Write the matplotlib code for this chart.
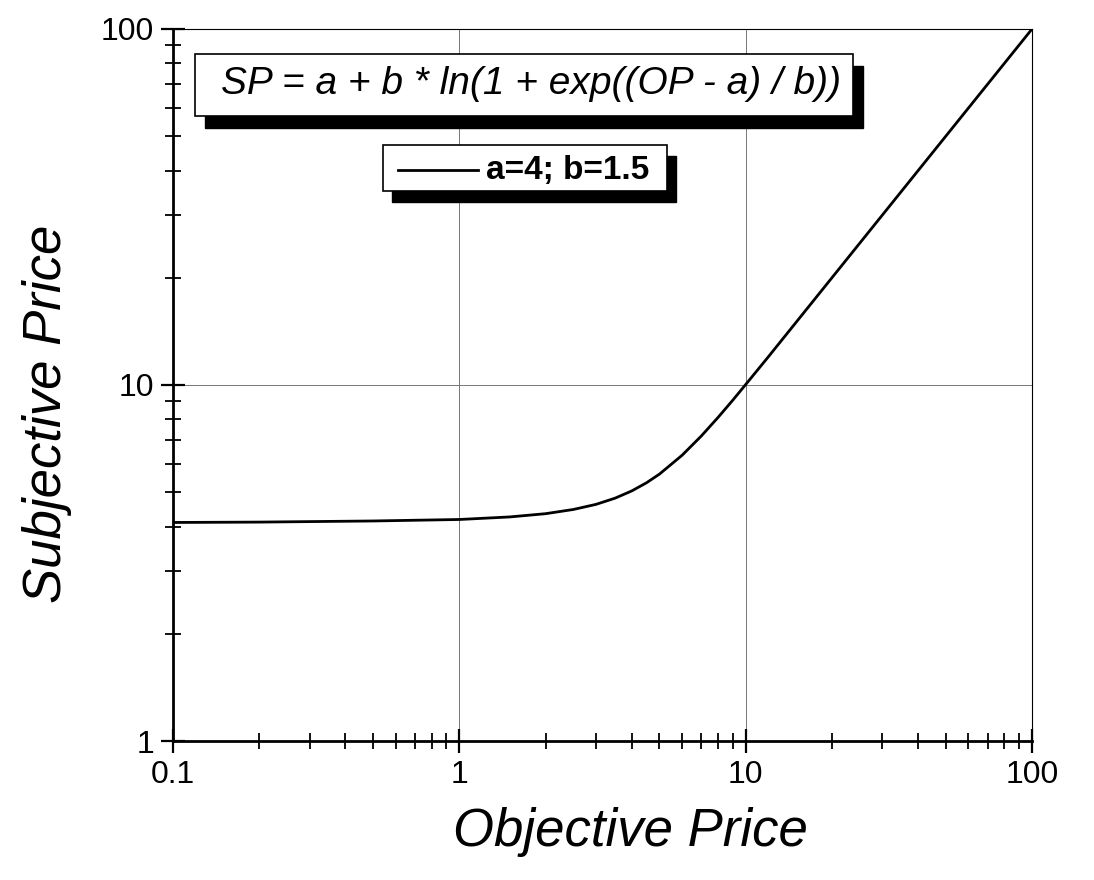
import matplotlib.pyplot as plt
from matplotlib.patches import Rectangle
from matplotlib.ticker import FixedLocator, LogLocator, NullFormatter

plt.rcParams['font.family'] = ['Liberation Sans', 'DejaVu Sans']

# values
op = [0.1, 0.2, 0.5, 1, 1.5, 2, 2.5, 3, 3.5, 4, 4.5, 5, 6, 7, 8, 9, 10, 12, 15, 20, 30, 50, 100]
sp = [4.11, 4.12, 4.15, 4.19, 4.26, 4.35, 4.47, 4.62, 4.81, 5.04, 5.31, 5.62, 6.35, 7.19, 8.10, 9.05, 10.03, 12.0, 15.0, 20.0, 30.0, 50.0, 100.0]
x_ticks = [0.1, 1, 10, 100]
x_labels = ["0.1", "1", "10", "100"]
y_ticks = [1, 10, 100]
y_labels = ["1", "10", "100"]

W, H = 1094, 880
fig = plt.figure(figsize=(W / 100, H / 100), dpi=100)
ax = fig.add_axes([173 / W, 1 - 741 / H, (1032 - 173) / W, (741 - 29) / H])

ax.plot(op, sp, color="black", lw=2, zorder=3)
ax.set_xscale("log")
ax.set_yscale("log")
ax.set_xlim(0.1, 100)
ax.set_ylim(1, 100)

ax.xaxis.set_major_locator(FixedLocator(x_ticks))
ax.set_xticklabels(x_labels)
ax.yaxis.set_major_locator(FixedLocator(y_ticks))
ax.set_yticklabels(y_labels)
ax.xaxis.set_minor_locator(LogLocator(base=10, subs=range(2, 10)))
ax.yaxis.set_minor_locator(LogLocator(base=10, subs=range(2, 10)))
ax.xaxis.set_minor_formatter(NullFormatter())
ax.yaxis.set_minor_formatter(NullFormatter())

ax.tick_params(which="major", direction="inout", length=17, width=1.6, labelsize=23, pad=5)
ax.tick_params(which="minor", direction="inout", length=12, width=1.3)
ax.grid(True, which="major", color="#777777", lw=0.7)

for s in ["left", "bottom"]:
    ax.spines[s].set_linewidth(2)
for s in ["top", "right"]:
    ax.spines[s].set_linewidth(0.8)

ax.set_xlabel("Objective Price", fontsize=38, style="italic")
ax.xaxis.set_label_coords(0.532, -0.092)
ax.set_ylabel("Subjective Price", fontsize=38, style="italic")
ax.yaxis.set_label_coords(-0.118, 0.46)

# boxes with drop shadow (figure pixel coords)
def shadow_box(x0, y0, x1, y1, dx, dy):
    fig.patches.append(Rectangle((x0 + dx, H - y1 - dy), x1 - x0, y1 - y0, transform=None,
                                 facecolor="black", edgecolor="black", zorder=5))
    fig.patches.append(Rectangle((x0, H - y1), x1 - x0, y1 - y0, transform=None,
                                 facecolor="white", edgecolor="black", lw=1.2, zorder=6))

shadow_box(195, 54, 853, 116, 10, 12)
fig.text((195 + 853) / 2 / W + 0.006, 1 - 84 / H, "SP = a + b * ln(1 + exp((OP - a) / b))",
         fontsize=28, style="italic", ha="center", va="center", zorder=7)

shadow_box(383, 145, 667, 191, 9, 11)
fig.add_artist(plt.Line2D([398 / W, 478 / W], [1 - 170 / H, 1 - 170 / H], color="black", lw=2, zorder=7))
fig.text(486 / W, 1 - 170 / H, "a=4; b=1.5", fontsize=24, weight="bold", ha="left", va="center", zorder=7)

plt.savefig("out.png", dpi=100)
